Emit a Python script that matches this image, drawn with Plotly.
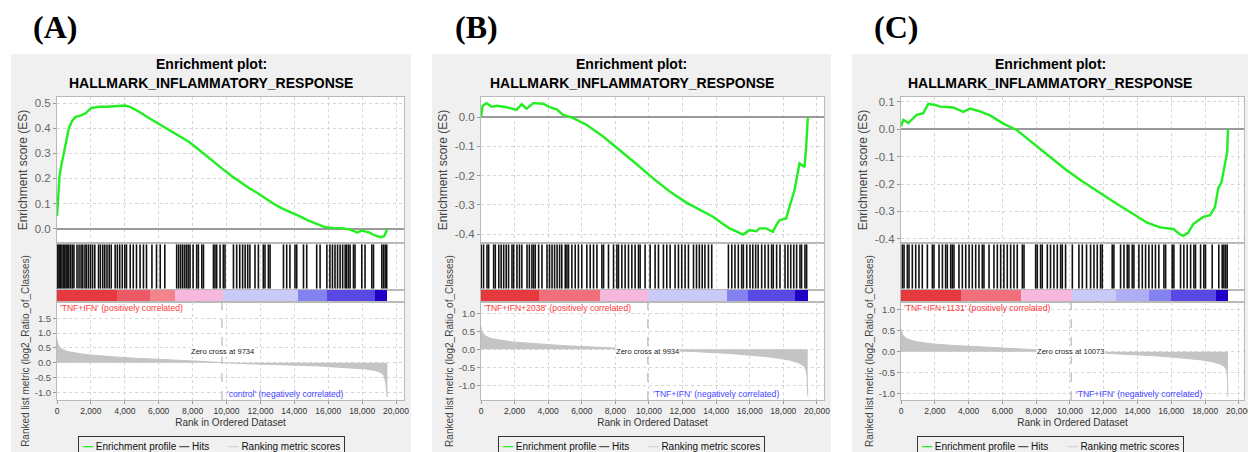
import plotly.graph_objects as go

W, H = 1248, 452

# ---------------- data ----------------
panel_labels = ["(A)", "(B)", "(C)"]
title_line1 = "Enrichment plot:"
title_line2 = "HALLMARK_INFLAMMATORY_RESPONSE"
pos_labels = ["'TNF+IFN' (positively correlated)",
              "'TNF+IFN+2038' (positively correlated)",
              "'TNF+IFN+1131' (positively correlated)"]
neg_labels = ["'control' (negatively correlated)",
              "'TNF+IFN' (negatively correlated)",
              "'TNF+IFN' (negatively correlated)"]
zero_cross = [9734, 9934, 10073]
legend_names = ["Enrichment profile", "Hits", "Ranking metric scores"]

rank_ticks = [0, 2000, 4000, 6000, 8000, 10000, 12000, 14000, 16000, 18000, 20000]
es_ticks_A = [0.0, 0.1, 0.2, 0.3, 0.4, 0.5]
es_ticks_B = [-0.4, -0.3, -0.2, -0.1, 0.0]
es_ticks_C = [-0.4, -0.3, -0.2, -0.1, 0.0, 0.1]
metric_ticks_A = [-1.0, -0.5, 0.0, 0.5, 1.0, 1.5]
metric_ticks_B = [-1.0, -0.5, 0.0, 0.5, 1.0]
metric_ticks_C = [-1.0, -0.5, 0.0, 0.5, 1.0]

# Enrichment score running curves
es_rank_A = [0, 60, 150, 250, 400, 550, 700, 900, 1100, 1400, 1700, 2000, 2500, 3000, 3500,
             4000, 4300, 4800, 5300, 5800, 6300, 6800, 7300, 7800, 8300, 8800, 9300, 9800,
             10300, 10800, 11300, 11800, 12300, 12800, 13300, 13800, 14300, 14800, 15300,
             15800, 16300, 16800, 17300, 17700, 18000, 18400, 18800, 19100, 19300, 19490]
es_val_A = [0.05, 0.14, 0.21, 0.25, 0.30, 0.35, 0.40, 0.43, 0.445, 0.45, 0.46, 0.48, 0.485,
            0.485, 0.487, 0.49, 0.485, 0.467, 0.445, 0.425, 0.405, 0.387, 0.366, 0.345, 0.318,
            0.29, 0.262, 0.236, 0.21, 0.185, 0.163, 0.143, 0.12, 0.098, 0.08, 0.066, 0.05,
            0.033, 0.02, 0.006, 0.003, 0.002, -0.004, -0.015, -0.008, -0.015, -0.028, -0.034,
            -0.03, 0.0]

es_rank_B = [0, 100, 335, 630, 930, 1525, 2120, 2418, 2715, 3110, 3705, 4101, 4500, 4895,
             5490, 6280, 7270, 8260, 9255, 10245, 11235, 12226, 13217, 13810, 14405, 14800,
             15200, 15594, 15990, 16387, 16585, 16980, 17377, 17575, 17773, 18170, 18368,
             18665, 18962, 19260, 19360, 19458]
es_val_B = [0.0, 0.039, 0.048, 0.036, 0.039, 0.034, 0.025, 0.044, 0.029, 0.048, 0.046, 0.034,
            0.027, 0.008, -0.003, -0.026, -0.066, -0.112, -0.16, -0.209, -0.254, -0.292,
            -0.323, -0.34, -0.365, -0.38, -0.39, -0.401, -0.386, -0.39, -0.38, -0.38, -0.392,
            -0.369, -0.352, -0.346, -0.306, -0.249, -0.158, -0.17, -0.1, 0.0]

es_rank_C = [0, 138, 434, 927, 1321, 1617, 2012, 2308, 3096, 3688, 4082, 4674, 5266, 6055,
             6844, 7830, 8816, 9802, 10789, 11775, 12761, 13747, 14536, 15325, 16114, 16509,
             16706, 17002, 17298, 17890, 18284, 18580, 18777, 18974, 19171, 19309, 19350]
es_val_C = [0.01, 0.034, 0.022, 0.052, 0.058, 0.092, 0.088, 0.082, 0.079, 0.063, 0.075,
            0.065, 0.05, 0.02, -0.003, -0.052, -0.101, -0.15, -0.193, -0.233, -0.272, -0.309,
            -0.34, -0.358, -0.364, -0.383, -0.389, -0.377, -0.346, -0.32, -0.314, -0.284,
            -0.216, -0.192, -0.125, -0.082, 0.0]

# Gene-set hit positions (rank)
hits_A = [5, 60, 130, 210, 290, 380, 460, 540, 620, 700, 800, 900, 1000, 1180, 1300, 1420,
          1520, 1650, 1740, 1860, 1980, 2100, 2230, 2450, 2560, 2700, 2820, 2950, 3080, 3200,
          3430, 3560, 3700, 3850, 4000, 4100, 4320, 4500, 4690, 4900, 5100, 5280, 5600, 5870,
          6090, 6360, 7060, 7180, 7300, 7420, 7540, 7650, 7750, 7850, 8030, 8240, 8340, 8540,
          8640, 9230, 9320, 9420, 9620, 9810, 9910, 10410, 10600, 10780, 10950, 11100, 11250,
          11380, 11680, 11880, 12170, 12270, 12470, 12570, 13360, 13550, 13740, 14040, 14140,
          14540, 14730, 15320, 15520, 15920, 16100, 16250, 16400, 16550, 16700, 16850, 17000,
          17080, 17190, 17290, 17490, 17580, 17980, 18170, 18570, 18670, 19160, 19260, 19360,
          19450]
hits_B = [10, 150, 357, 456, 753, 852, 1060, 1200, 1350, 1500, 1640, 1843, 1943, 2140, 2290,
          2430, 2740, 2880, 3030, 3130, 3230, 3430, 3630, 3930, 4080, 4230, 4380, 4530, 4680,
          4810, 5015, 5115, 5210, 5410, 5610, 5800, 6000, 6300, 6500, 6700, 6900, 7195, 7295,
          7590, 7890, 8090, 8185, 8385, 8580, 8780, 8980, 9175, 9375, 9475, 9770, 10070, 10365,
          10565, 10860, 11060, 11260, 11555, 11755, 11950, 12150, 12350, 12650, 12830, 13000,
          13170, 13330, 13540, 13735, 14730, 14930, 15120, 15320, 15520, 15620, 15820, 16015,
          16180, 16350, 16500, 16710, 16905, 17105, 17300, 17400, 17600, 17800, 18100, 18270,
          18440, 18620, 18790, 18990, 19085, 19285, 19385]
hits_C = [80, 180, 375, 474, 670, 870, 1065, 1260, 1560, 1854, 1952, 2250, 2450, 2640, 2740,
          2940, 3035, 3135, 3430, 3630, 3830, 4030, 4220, 4420, 4615, 4810, 4910, 5210, 5500,
          5700, 5900, 6090, 6290, 6490, 6685, 6880, 7180, 7280, 7970, 8065, 8260, 8360, 8660,
          8850, 9050, 9250, 9450, 9545, 9740, 10140, 10530, 10730, 10980, 11220, 11420, 11615,
          11810, 11910, 12500, 12600, 12995, 13195, 13390, 13490, 13685, 13785, 14080, 14280,
          14475, 14670, 14870, 15060, 15260, 15560, 15660, 16050, 16150, 16545, 16740, 16940,
          17140, 17335, 17430, 17730, 17925, 18020, 18420, 18810, 19010, 19110, 19210, 19305]

# Ranked list metric
metric_rank_A = [0, 40, 120, 300, 600, 1000, 1500, 2000, 3000, 4000, 5000, 6000, 7000, 8000,
                 9000, 9734, 10500, 11500, 12500, 13500, 14500, 15500, 16500, 17500, 18200,
                 18800, 19100, 19300, 19400, 19470, 19490]
metric_val_A = [0.79, 0.66, 0.55, 0.45, 0.38, 0.33, 0.29, 0.26, 0.21, 0.17, 0.14, 0.12, 0.09,
                0.06, 0.03, 0.0, -0.02, -0.04, -0.055, -0.07, -0.085, -0.11, -0.15, -0.18,
                -0.21, -0.27, -0.33, -0.44, -0.7, -1.15, -1.15]
metric_rank_B = [0, 40, 120, 300, 600, 1000, 1500, 2000, 3000, 4000, 5000, 6000, 7000, 8000,
                 9000, 9934, 11000, 12000, 13000, 14000, 15000, 16000, 17000, 17800, 18400,
                 18900, 19200, 19350, 19420, 19450]
metric_val_B = [0.63, 0.52, 0.44, 0.36, 0.3, 0.26, 0.23, 0.2, 0.16, 0.13, 0.1, 0.08, 0.06,
                0.04, 0.02, 0.0, -0.03, -0.05, -0.07, -0.09, -0.12, -0.15, -0.2, -0.25, -0.3,
                -0.37, -0.45, -0.57, -0.8, -1.28]
metric_rank_C = [0, 40, 120, 300, 600, 1000, 1500, 2000, 3000, 4000, 5000, 6000, 7000, 8000,
                 9000, 10073, 11000, 12000, 13000, 14000, 15000, 16000, 17000, 17800, 18400,
                 18900, 19150, 19280, 19330, 19350]
metric_val_C = [0.54, 0.46, 0.39, 0.32, 0.27, 0.23, 0.2, 0.18, 0.15, 0.13, 0.11, 0.09, 0.07,
                0.05, 0.03, 0.0, -0.02, -0.04, -0.06, -0.08, -0.1, -0.13, -0.16, -0.2, -0.24,
                -0.3, -0.36, -0.45, -0.7, -1.08]

# Colour bar segments (rank edges and colour level of each segment)
bar_edges_A = [0, 3520, 5490, 6960, 9815, 14240, 15910, 18765, 19490]
bar_levels_A = [0, 1, 2, 3, 4, 5, 6, 7]
bar_edges_B = [0, 3430, 7095, 9970, 14630, 15915, 18690, 19445]
bar_levels_B = [0, 1.5, 3, 4, 5, 6, 7]
bar_edges_C = [0, 3530, 7080, 10136, 12700, 14670, 15954, 18616, 19345]
bar_levels_C = [0, 1.5, 3, 4, 4.4, 5, 6, 7]

panels = [
    dict(es_rank=es_rank_A, es_val=es_val_A, hits=hits_A, m_rank=metric_rank_A,
         m_val=metric_val_A, edges=bar_edges_A, levels=bar_levels_A,
         es_ticks=es_ticks_A, m_ticks=metric_ticks_A),
    dict(es_rank=es_rank_B, es_val=es_val_B, hits=hits_B, m_rank=metric_rank_B,
         m_val=metric_val_B, edges=bar_edges_B, levels=bar_levels_B,
         es_ticks=es_ticks_B, m_ticks=metric_ticks_B),
    dict(es_rank=es_rank_C, es_val=es_val_C, hits=hits_C, m_rank=metric_rank_C,
         m_val=metric_val_C, edges=bar_edges_C, levels=bar_levels_C,
         es_ticks=es_ticks_C, m_ticks=metric_ticks_C),
]

# ---------------- layout / style ----------------
FONT = "Liberation Sans, Arial, sans-serif"
PANEL_BG = "#f0f0f0"
bg_px = [(11, 411), (432, 831), (852, 1248)]
plot_px = [(57, 404), (481, 824), (901, 1244)]
x_max = [20470, 20420, 20300]
es_range = [[-0.057, 0.524], [-0.43, 0.069], [-0.415, 0.117]]
metric_range = [[-1.26, 2.05], [-1.40, 1.31], [-1.16, 1.19]]
rows_px = {"es": (97, 243), "hits": (243, 290), "bar": (290, 302), "metric": (302, 400)}
row_names = ["es", "hits", "bar", "metric"]
bar_colors = ["#e5393e", "#ec5a68", "#f4848c", "#f6b8dc", "#cacaf8", "#8482f0", "#5a48e4", "#2000c4"]
bar_scale = [[k / (len(bar_colors) - 1), c] for k, c in enumerate(bar_colors)]
GREEN = "#22ee22"
HIT_COLOR = "#111111"
METRIC_COLOR = "#c4c4c4"
GRID = "#d6d6d6"
BORDER = "#b9b9b9"

fig = go.Figure()
axes = {}
annotations = []
shapes = []

# white areas outside the gray panels (paper is gray)
for (x0, x1, y0, y1) in [(0, W, 0, 54), (0, 11, 0, H), (411, 432, 0, H), (831, 852, 0, H)]:
    shapes.append(dict(type="rect", xref="paper", yref="paper", x0=x0 / W, x1=x1 / W,
                       y0=1 - y1 / H, y1=1 - y0 / H, fillcolor="white", line_width=0,
                       layer="below"))


def aid(i):
    return "" if i == 1 else str(i)


for p, d in enumerate(panels):
    xdom = [plot_px[p][0] / W, plot_px[p][1] / W]
    ids = {name: p * 4 + k + 1 for k, name in enumerate(row_names)}
    ref = {name: ("x" + aid(i), "y" + aid(i)) for name, i in ids.items()}

    for name, i in ids.items():
        top, bot = rows_px[name]
        xa = dict(domain=xdom, anchor=ref[name][1], range=[0, x_max[p]],
                  showline=True, mirror=True, linecolor=BORDER, linewidth=1,
                  tickvals=rank_ticks, showticklabels=False, ticks="",
                  showgrid=name in ("es", "hits", "metric"), gridcolor=GRID,
                  griddash="dot", zeroline=False, fixedrange=True, automargin=False)
        ya = dict(domain=[1 - bot / H, 1 - top / H], anchor=ref[name][0],
                  showline=True, mirror=True, linecolor=BORDER, linewidth=1,
                  showgrid=False, zeroline=False, showticklabels=False, ticks="",
                  fixedrange=True, automargin=False)
        if name == "es":
            ya.update(range=es_range[p], tickvals=d["es_ticks"],
                      ticktext=[f"{v:.1f}" for v in d["es_ticks"]], showticklabels=True,
                      ticks="outside", ticklen=3, tickcolor="#999",
                      tickfont=dict(family=FONT, size=11.5, color="#666"),
                      showgrid=True, gridcolor=GRID, griddash="dot",
                      zeroline=True, zerolinecolor="#9a9a9a", zerolinewidth=1.5,
                      title=dict(text="Enrichment score (ES)", standoff=4,
                                 font=dict(family=FONT, size=12, color="#444")))
        elif name in ("hits", "bar"):
            ya.update(range=[0, 1])
        else:
            ya.update(range=metric_range[p], tickvals=d["m_ticks"],
                      ticktext=[f"{v:.1f}" for v in d["m_ticks"]], showticklabels=True,
                      ticks="outside", ticklen=3, tickcolor="#999",
                      tickfont=dict(family=FONT, size=9.5, color="#555"),
                      showgrid=True, gridcolor=GRID, griddash="dot",
                      title=dict(text="Ranked list metric (log2_Ratio_of_Classes)", standoff=3,
                                 font=dict(family=FONT, size=10, color="#444")))
            xa.update(showticklabels=True, ticks="outside", ticklen=3, tickcolor="#999",
                      ticktext=[f"{v:,}" for v in rank_ticks], ticklabeloverflow="allow",
                      tickfont=dict(family=FONT, size=8.5, color="#333"),
                      title=dict(text="Rank in Ordered Dataset", standoff=3,
                                 font=dict(family=FONT, size=10, color="#333")))
        axes["xaxis" + aid(i)] = xa
        axes["yaxis" + aid(i)] = ya

    # enrichment profile
    fig.add_trace(go.Scatter(x=d["es_rank"], y=d["es_val"], mode="lines",
                             line=dict(color=GREEN, width=2.4), name=legend_names[0],
                             showlegend=False, xaxis=ref["es"][0], yaxis=ref["es"][1]))
    # hits
    hx, hy = [], []
    for h in d["hits"]:
        hx += [h, h, None]
        hy += [0.03, 0.97, None]
    fig.add_trace(go.Scatter(x=hx, y=hy, mode="lines", line=dict(color=HIT_COLOR, width=1.6),
                             name=legend_names[1], showlegend=False,
                             xaxis=ref["hits"][0], yaxis=ref["hits"][1]))
    # colour bar
    fig.add_trace(go.Heatmap(x=d["edges"], y=[0, 1], z=[d["levels"]], zmin=0, zmax=7,
                             colorscale=bar_scale, showscale=False, hoverinfo="skip",
                             xaxis=ref["bar"][0], yaxis=ref["bar"][1]))
    # ranked list metric
    fig.add_trace(go.Scatter(x=d["m_rank"], y=d["m_val"], mode="lines", fill="tozeroy",
                             fillcolor=METRIC_COLOR, line=dict(color=METRIC_COLOR, width=1),
                             name=legend_names[2], showlegend=False,
                             xaxis=ref["metric"][0], yaxis=ref["metric"][1]))

    # zero cross line
    mx, my = ref["metric"]
    shapes.append(dict(type="line", xref=mx, yref=my + " domain", x0=zero_cross[p],
                       x1=zero_cross[p], y0=0, y1=1,
                       line=dict(color="#aaaaaa", width=1, dash="dash")))

    # texts
    cx = (bg_px[p][0] + bg_px[p][1]) / 2 / W
    legend_text = (f"<b><span style='color:{GREEN}'>—</span></b> {legend_names[0]} "
                   f"<b><span style='color:#555555'>—</span></b> {legend_names[1]}"
                   f"&nbsp;&nbsp;&nbsp;&nbsp;&nbsp;&nbsp;&nbsp;"
                   f"<b><span style='color:#d4d4d4'>—</span></b> {legend_names[2]}")
    annotations += [
        dict(text="<b>" + panel_labels[p] + "</b>", xref="paper", yref="paper",
             x=(bg_px[p][0] + 44) / W, y=1 - 27 / H, xanchor="center", yanchor="middle",
             showarrow=False,
             font=dict(family="Liberation Serif, Times New Roman, serif", size=32, color="black")),
        dict(text="<b>" + title_line1 + "</b>", xref="paper", yref="paper", x=cx,
             y=1 - 64 / H, xanchor="center", yanchor="middle", showarrow=False,
             font=dict(family=FONT, size=14, color="black")),
        dict(text="<b>" + title_line2 + "</b>", xref="paper", yref="paper", x=cx,
             y=1 - 83 / H, xanchor="center", yanchor="middle", showarrow=False,
             font=dict(family=FONT, size=14, color="black")),
        dict(text=pos_labels[p], xref=mx + " domain", yref=my + " domain", x=0, y=0.94,
             xanchor="left", yanchor="middle", xshift=1, showarrow=False,
             font=dict(family=FONT, size=8.6, color="#ff3838")),
        dict(text=neg_labels[p], xref=mx, yref=my + " domain", x=zero_cross[p], y=0.06,
             xanchor="left", yanchor="middle", xshift=3, showarrow=False,
             font=dict(family=FONT, size=8.6, color="#4646ff")),
        dict(text=f"Zero cross at {zero_cross[p]}", xref=mx, yref=my + " domain",
             x=zero_cross[p], y=0.5, xanchor="center", yanchor="middle", showarrow=False,
             bgcolor="white", borderpad=0,
             font=dict(family=FONT, size=7.6, color="#222")),
        # legend box
        dict(text=legend_text, xref="paper", yref="paper", x=cx, y=1 - 446 / H,
             xanchor="center", yanchor="middle", showarrow=False,
             bordercolor="#333", borderwidth=1, borderpad=4, bgcolor=PANEL_BG,
             font=dict(family=FONT, size=10, color="#111")),
    ]

fig.update_layout(width=W, height=H, margin=dict(l=0, r=0, t=0, b=0, autoexpand=False),
                  paper_bgcolor=PANEL_BG, plot_bgcolor="white",
                  font=dict(family=FONT), showlegend=False,
                  shapes=shapes, annotations=annotations, **axes)

fig.write_html("out.html", config={"displayModeBar": False},
               post_script="document.body.style.margin='0';document.body.style.padding='0';")
